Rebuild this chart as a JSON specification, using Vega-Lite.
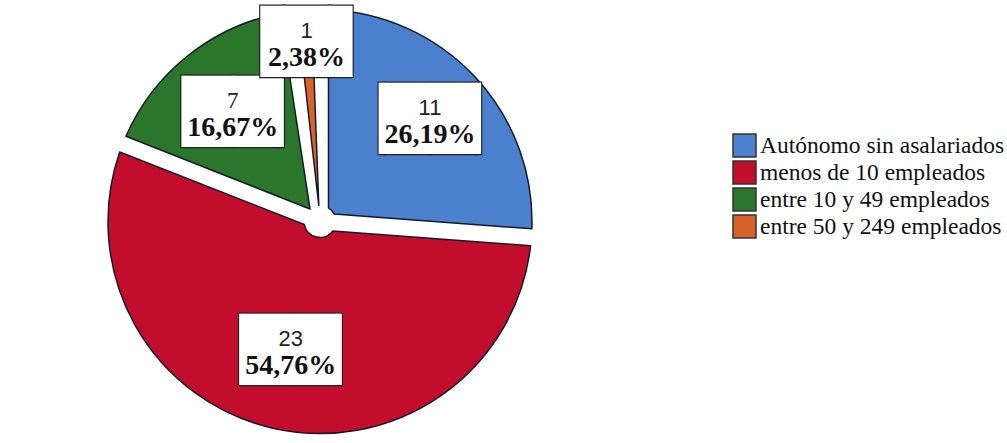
{
  "$schema": "https://vega.github.io/schema/vega-lite/v6.json",
  "width": 640,
  "height": 443,
  "autosize": {"type": "none"},
  "padding": {"left": 0, "top": 0, "right": 367, "bottom": 0},
  "background": "white",
  "config": {"view": {"stroke": null}},
  "data": {
    "values": [
      {"categoria": "Autónomo sin asalariados", "n": 11, "pct": "26,19%", "orden": 1},
      {"categoria": "menos de 10 empleados", "n": 23, "pct": "54,76%", "orden": 2},
      {"categoria": "entre 10 y 49 empleados", "n": 7, "pct": "16,67%", "orden": 3},
      {"categoria": "entre 50 y 249 empleados", "n": 1, "pct": "2,38%", "orden": 4}
    ]
  },
  "encoding": {
    "theta": {"field": "n", "type": "quantitative", "stack": true},
    "order": {"field": "orden", "type": "quantitative"}
  },
  "layer": [
    {
      "mark": {"type": "arc", "outerRadius": 212, "innerRadius": 16, "padAngle": 0.08, "stroke": "#141a2a", "strokeWidth": 1.5, "strokeJoin": "round"},
      "encoding": {
        "color": {
          "field": "categoria",
          "type": "nominal",
          "scale": {
            "domain": ["Autónomo sin asalariados", "menos de 10 empleados", "entre 10 y 49 empleados", "entre 50 y 249 empleados"],
            "range": ["#4A80CE", "#C20E2C", "#2A762A", "#D9622A"]
          },
          "legend": {
            "title": null,
            "orient": "none",
            "legendX": 732,
            "legendY": 133,
            "symbolType": "square",
            "symbolSize": 529,
            "symbolStrokeColor": "#333333",
            "symbolStrokeWidth": 1.5,
            "labelFont": "Liberation Serif",
            "labelFontSize": 23.5,
            "labelColor": "#111111",
            "labelOffset": 3,
            "rowPadding": -2,
            "labelLimit": 400
          }
        }
      }
    },
    {
      "encoding": {"radius": {"value": 150}},
      "layer": [
        {"mark": {"type": "text", "dy": 2, "font": "DejaVu Sans", "fontSize": 60, "color": "#222222", "stroke": "#222222", "strokeWidth": 2.4},
         "encoding": {"text": {"condition": {"test": "datum.orden != 1", "value": ""}, "value": "▕██▏"}}},
        {"mark": {"type": "text", "dy": 2, "font": "DejaVu Sans", "fontSize": 60, "color": "white"},
         "encoding": {"text": {"condition": {"test": "datum.orden != 1", "value": ""}, "value": "▕██▏"}}},
        {"mark": {"type": "text", "dy": -11, "font": "Liberation Sans", "fontSize": 22, "color": "#222222"},
         "encoding": {"text": {"condition": {"test": "datum.orden != 1", "value": ""}, "field": "n", "type": "quantitative"}}},
        {"mark": {"type": "text", "dy": 16, "font": "Liberation Serif", "fontWeight": "bold", "fontSize": 28, "color": "#111111"},
         "encoding": {"text": {"condition": {"test": "datum.orden != 1", "value": ""}, "field": "pct", "type": "nominal"}}}
      ]
    },
    {
      "encoding": {"radius": {"value": 132}},
      "layer": [
        {"mark": {"type": "text", "dy": 2, "font": "DejaVu Sans", "fontSize": 60, "color": "#222222", "stroke": "#222222", "strokeWidth": 2.4},
         "encoding": {"text": {"condition": {"test": "datum.orden != 2", "value": ""}, "value": "▕██▏"}}},
        {"mark": {"type": "text", "dy": 2, "font": "DejaVu Sans", "fontSize": 60, "color": "white"},
         "encoding": {"text": {"condition": {"test": "datum.orden != 2", "value": ""}, "value": "▕██▏"}}},
        {"mark": {"type": "text", "dy": -11, "font": "Liberation Sans", "fontSize": 22, "color": "#222222"},
         "encoding": {"text": {"condition": {"test": "datum.orden != 2", "value": ""}, "field": "n", "type": "quantitative"}}},
        {"mark": {"type": "text", "dy": 16, "font": "Liberation Serif", "fontWeight": "bold", "fontSize": 28, "color": "#111111"},
         "encoding": {"text": {"condition": {"test": "datum.orden != 2", "value": ""}, "field": "pct", "type": "nominal"}}}
      ]
    },
    {
      "encoding": {"radius": {"value": 140}},
      "layer": [
        {"mark": {"type": "text", "dy": 2, "font": "DejaVu Sans", "fontSize": 60, "color": "#222222", "stroke": "#222222", "strokeWidth": 2.4},
         "encoding": {"text": {"condition": {"test": "datum.orden != 3", "value": ""}, "value": "▕██▏"}}},
        {"mark": {"type": "text", "dy": 2, "font": "DejaVu Sans", "fontSize": 60, "color": "white"},
         "encoding": {"text": {"condition": {"test": "datum.orden != 3", "value": ""}, "value": "▕██▏"}}},
        {"mark": {"type": "text", "dy": -11, "font": "Liberation Serif", "fontSize": 23, "color": "#222222"},
         "encoding": {"text": {"condition": {"test": "datum.orden != 3", "value": ""}, "field": "n", "type": "quantitative"}}},
        {"mark": {"type": "text", "dy": 16, "font": "Liberation Serif", "fontWeight": "bold", "fontSize": 28, "color": "#111111"},
         "encoding": {"text": {"condition": {"test": "datum.orden != 3", "value": ""}, "field": "pct", "type": "nominal"}}}
      ]
    },
    {
      "encoding": {"radius": {"value": 180}},
      "layer": [
        {"mark": {"type": "text", "dy": 2, "font": "DejaVu Sans", "fontSize": 60, "color": "#222222", "stroke": "#222222", "strokeWidth": 2.4},
         "encoding": {"text": {"condition": {"test": "datum.orden != 4", "value": ""}, "value": "▐█▌"}}},
        {"mark": {"type": "text", "dy": 2, "font": "DejaVu Sans", "fontSize": 60, "color": "white"},
         "encoding": {"text": {"condition": {"test": "datum.orden != 4", "value": ""}, "value": "▐█▌"}}},
        {"mark": {"type": "text", "dy": -11, "font": "Liberation Sans", "fontSize": 22, "color": "#222222"},
         "encoding": {"text": {"condition": {"test": "datum.orden != 4", "value": ""}, "field": "n", "type": "quantitative"}}},
        {"mark": {"type": "text", "dy": 16, "font": "Liberation Serif", "fontWeight": "bold", "fontSize": 28, "color": "#111111"},
         "encoding": {"text": {"condition": {"test": "datum.orden != 4", "value": ""}, "field": "pct", "type": "nominal"}}}
      ]
    }
  ]
}
